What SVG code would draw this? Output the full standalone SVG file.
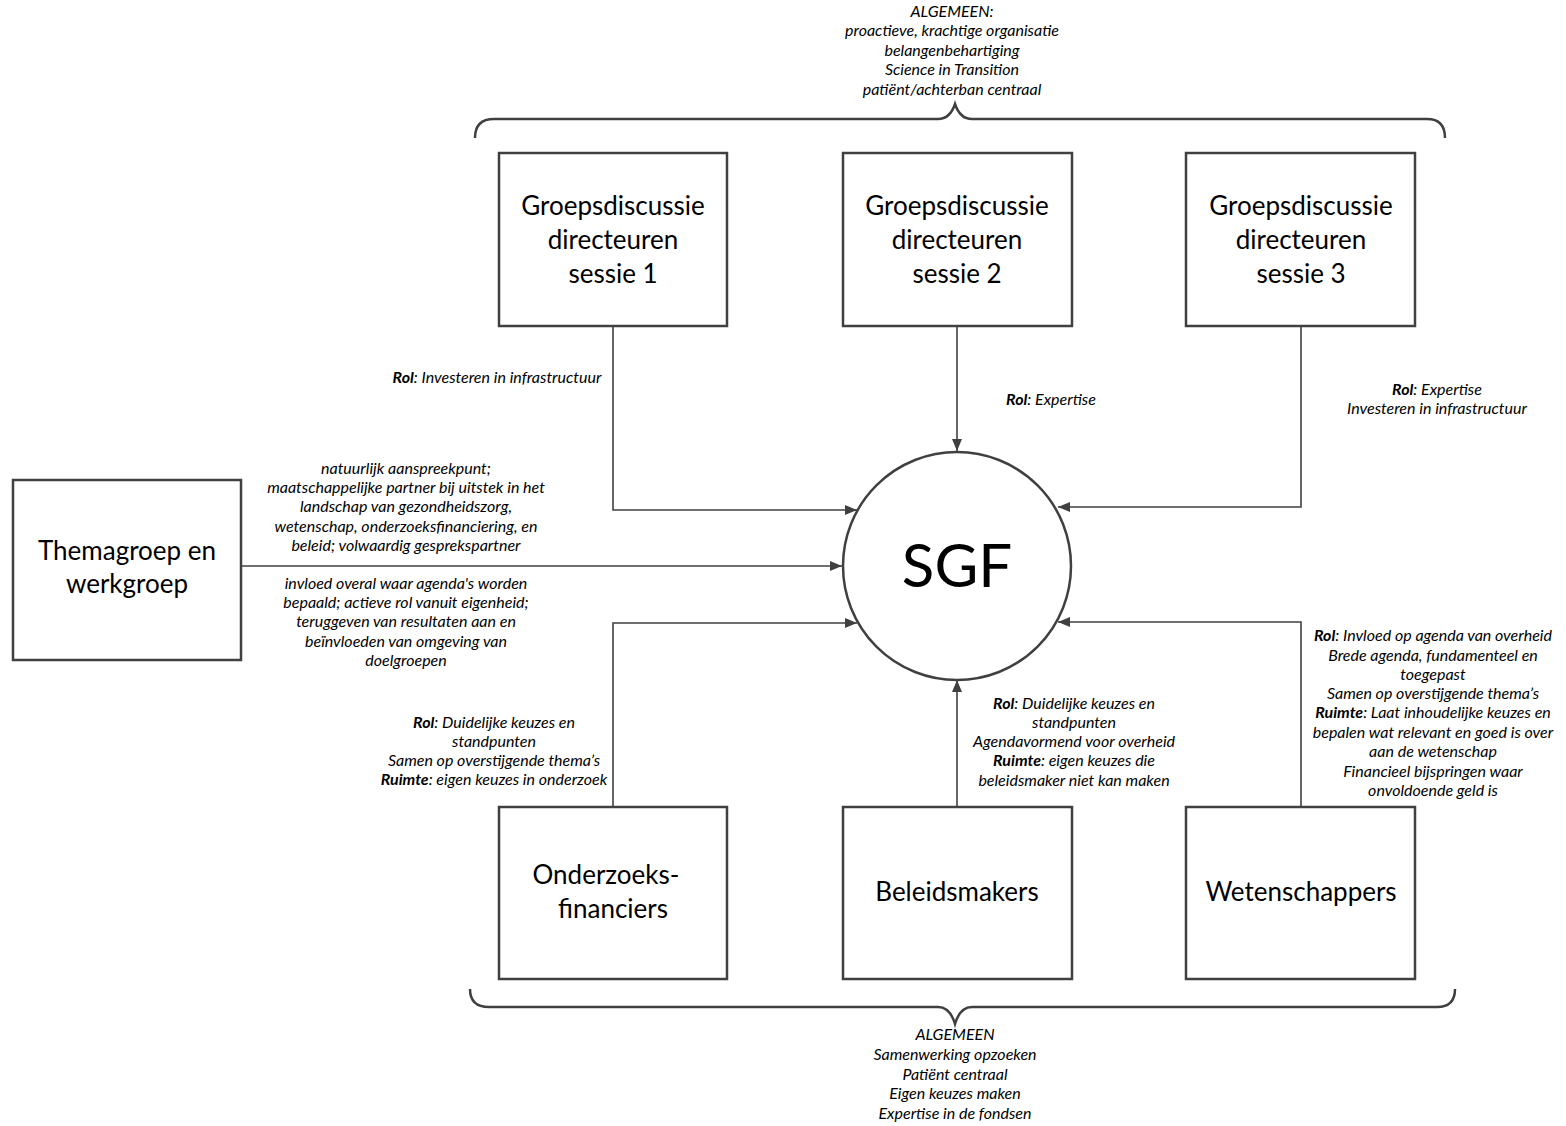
<svg xmlns="http://www.w3.org/2000/svg" width="1566" height="1126" viewBox="0 0 1566 1126">
<style>
.box{fill:#fff;stroke:#404040;stroke-width:2.5}
.con{fill:none;stroke:#404040;stroke-width:1.6}
.brace{fill:none;stroke:#404040;stroke-width:2.5}
.big{font-family:Lato,"Liberation Sans",sans-serif;font-size:26px;fill:#000;text-anchor:middle}
.sgf{font-family:Lato,"Liberation Sans",sans-serif;font-size:60px;fill:#000;text-anchor:middle}
.lbl{font-family:Lato,"Liberation Sans",sans-serif;font-size:16px;font-style:italic;fill:#000;text-anchor:middle}
.b{font-weight:bold}
</style>
<defs>
<marker id="arr" viewBox="0 0 12 10" refX="12" refY="5" markerWidth="12" markerHeight="10" markerUnits="userSpaceOnUse" orient="auto">
<path d="M0,0 L12,5 L0,10 Z" fill="#404040"/>
</marker>
</defs>
<rect width="1566" height="1126" fill="#fff"/>

<g id="connectors">
<path class="con" d="M613,326 V510 H857" marker-end="url(#arr)"/>
<path class="con" d="M957,326 V451" marker-end="url(#arr)"/>
<path class="con" d="M1301,326 V507 H1058" marker-end="url(#arr)"/>
<path class="con" d="M241,566 H842" marker-end="url(#arr)"/>
<path class="con" d="M613,807 V623 H857" marker-end="url(#arr)"/>
<path class="con" d="M957,807 V680" marker-end="url(#arr)"/>
<path class="con" d="M1301,807 V622 H1058" marker-end="url(#arr)"/>
</g>

<g id="brace-top">
<path class="brace" d="M475,138 Q475,119 494,119 H938 Q950,119 955,104 Q960,119 972,119 H1427 Q1445,119 1445,138"/>
<g class="lbl">
<text x="952" y="17">ALGEMEEN:</text>
<text x="952" y="36">proactieve, krachtige organisatie</text>
<text x="952" y="56">belangenbehartiging</text>
<text x="952" y="75">Science in Transition</text>
<text x="952" y="95">patiënt/achterban centraal</text>
</g>
</g>

<g id="brace-bottom">
<path class="brace" d="M470,989 Q470,1007 489,1007 H938 Q950,1007 955,1024 Q960,1007 972,1007 H1437 Q1455,1007 1455,989"/>
<g class="lbl">
<text x="955" y="1040">ALGEMEEN</text>
<text x="955" y="1060">Samenwerking opzoeken</text>
<text x="955" y="1080">Patiënt centraal</text>
<text x="955" y="1099">Eigen keuzes maken</text>
<text x="955" y="1119">Expertise in de fondsen</text>
</g>
</g>

<g id="sessie1">
<rect class="box" x="499" y="153" width="228" height="173"/>
<text class="big" x="613" y="215">Groepsdiscussie</text>
<text class="big" x="613" y="249">directeuren</text>
<text class="big" x="613" y="283">sessie 1</text>
</g>
<g id="sessie2">
<rect class="box" x="843" y="153" width="229" height="173"/>
<text class="big" x="957" y="215">Groepsdiscussie</text>
<text class="big" x="957" y="249">directeuren</text>
<text class="big" x="957" y="283">sessie 2</text>
</g>
<g id="sessie3">
<rect class="box" x="1186" y="153" width="229" height="173"/>
<text class="big" x="1301" y="215">Groepsdiscussie</text>
<text class="big" x="1301" y="249">directeuren</text>
<text class="big" x="1301" y="283">sessie 3</text>
</g>
<g id="themagroep">
<rect class="box" x="13" y="480" width="228" height="180"/>
<text class="big" x="127" y="560">Themagroep en</text>
<text class="big" x="127" y="593">werkgroep</text>
</g>
<g id="sgf">
<circle cx="957" cy="566" r="114" fill="#fff" stroke="#404040" stroke-width="2.5"/>
<text class="sgf" x="957" y="587">SGF</text>
</g>
<g id="onderzoeksfinanciers">
<rect class="box" x="499" y="807" width="228" height="172"/>
<text class="big" x="606" y="884">Onderzoeks-</text>
<text class="big" x="613" y="918">financiers</text>
</g>
<g id="beleidsmakers">
<rect class="box" x="843" y="807" width="229" height="172"/>
<text class="big" x="957" y="901">Beleidsmakers</text>
</g>
<g id="wetenschappers">
<rect class="box" x="1186" y="807" width="229" height="172"/>
<text class="big" x="1301" y="901">Wetenschappers</text>
</g>

<g id="labels" class="lbl">
<text x="497" y="383"><tspan class="b">Rol</tspan>: Investeren in infrastructuur</text>
<text x="1051" y="405"><tspan class="b">Rol</tspan>: Expertise</text>
<text x="1437" y="395"><tspan class="b">Rol</tspan>: Expertise</text>
<text x="1437" y="414">Investeren in infrastructuur</text>

<text x="406" y="474">natuurlijk aanspreekpunt;</text>
<text x="406" y="493">maatschappelijke partner bij uitstek in het</text>
<text x="406" y="512">landschap van gezondheidszorg,</text>
<text x="406" y="532">wetenschap, onderzoeksfinanciering, en</text>
<text x="406" y="551">beleid; volwaardig gesprekspartner</text>
<text x="406" y="589">invloed overal waar agenda's worden</text>
<text x="406" y="608">bepaald; actieve rol vanuit eigenheid;</text>
<text x="406" y="627">teruggeven van resultaten aan en</text>
<text x="406" y="647">beïnvloeden van omgeving van</text>
<text x="406" y="666">doelgroepen</text>

<text x="494" y="728"><tspan class="b">Rol</tspan>: Duidelijke keuzes en</text>
<text x="494" y="747">standpunten</text>
<text x="494" y="766">Samen op overstijgende thema’s</text>
<text x="494" y="785"><tspan class="b">Ruimte</tspan>: eigen keuzes in onderzoek</text>

<text x="1074" y="709"><tspan class="b">Rol</tspan>: Duidelijke keuzes en</text>
<text x="1074" y="728">standpunten</text>
<text x="1074" y="747">Agendavormend voor overheid</text>
<text x="1074" y="766"><tspan class="b">Ruimte</tspan>: eigen keuzes die</text>
<text x="1074" y="786">beleidsmaker niet kan maken</text>

<text x="1433" y="641"><tspan class="b">Rol</tspan>: Invloed op agenda van overheid</text>
<text x="1433" y="661">Brede agenda, fundamenteel en</text>
<text x="1433" y="680">toegepast</text>
<text x="1433" y="699">Samen op overstijgende thema’s</text>
<text x="1433" y="718"><tspan class="b">Ruimte</tspan>: Laat inhoudelijke keuzes en</text>
<text x="1433" y="738">bepalen wat relevant en goed is over</text>
<text x="1433" y="757">aan de wetenschap</text>
<text x="1433" y="777">Financieel bijspringen waar</text>
<text x="1433" y="796">onvoldoende geld is</text>
</g>
</svg>
